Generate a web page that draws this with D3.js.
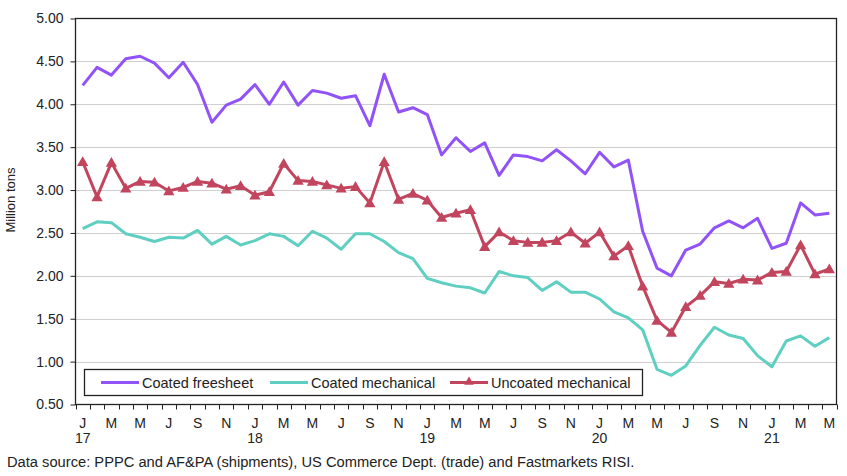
<!DOCTYPE html>
<html><head><meta charset="utf-8">
<script src="https://cdn.jsdelivr.net/npm/d3@7"></script>
<style>
body{margin:0;background:#fff;}
svg{display:block;font-family:"Liberation Sans",Arial,sans-serif;}
</style></head>
<body><svg id="c" width="847" height="476"></svg>
<script>
const months = ["J","F","M","A","M","J","J","A","S","O","N","D",
  "J","F","M","A","M","J","J","A","S","O","N","D",
  "J","F","M","A","M","J","J","A","S","O","N","D",
  "J","F","M","A","M","J","J","A","S","O","N","D",
  "J","F","M","A","M"];
const years = [{i:0,label:"17"},{i:12,label:"18"},{i:24,label:"19"},{i:36,label:"20"},{i:48,label:"21"}];
const coatedFreesheet = [4.22,4.43,4.34,4.53,4.56,4.48,4.31,4.49,4.23,3.79,3.99,4.06,
  4.23,4.00,4.26,3.99,4.16,4.13,4.07,4.10,3.75,4.35,3.91,3.96,
  3.88,3.41,3.61,3.45,3.55,3.17,3.41,3.39,3.34,3.47,3.34,3.19,
  3.44,3.27,3.35,2.52,2.09,2.00,2.30,2.37,2.56,2.64,2.56,2.67,
  2.32,2.38,2.85,2.71,2.73];
const coatedMechanical = [2.55,2.63,2.62,2.49,2.45,2.40,2.45,2.44,2.53,2.37,2.46,2.36,
  2.41,2.49,2.46,2.35,2.52,2.44,2.31,2.49,2.49,2.40,2.27,2.20,
  1.97,1.92,1.88,1.86,1.80,2.05,2.00,1.98,1.83,1.93,1.81,1.81,
  1.73,1.58,1.51,1.37,0.91,0.84,0.95,1.19,1.40,1.31,1.27,1.07,
  0.94,1.24,1.30,1.18,1.28];
const uncoatedMechanical = [3.33,2.92,3.32,3.02,3.10,3.09,2.99,3.03,3.10,3.08,3.01,3.05,
  2.94,2.98,3.31,3.11,3.10,3.06,3.02,3.04,2.85,3.33,2.89,2.96,
  2.88,2.68,2.73,2.77,2.34,2.51,2.41,2.39,2.39,2.41,2.51,2.38,
  2.51,2.23,2.35,1.88,1.48,1.34,1.64,1.77,1.93,1.91,1.96,1.95,
  2.04,2.05,2.36,2.02,2.08];
const yTicks = [0.5,1.0,1.5,2.0,2.5,3.0,3.5,4.0,4.5,5.0];
const seriesNames = ["Coated freesheet","Coated mechanical","Uncoated mechanical"];
const colors = ["#9152f8","#5ecfc1","#c2455e"];
const source = "Data source: PPPC and AF&PA (shipments), US Commerce Dept. (trade) and Fastmarkets RISI.";

const svg = d3.select("#c");
const L=75.5, R=836.5, T=18.5, B=404.5;
const idx = d3.range(months.length);
const x = d3.scaleBand().domain(idx).range([L,R]).padding(0);
const y = d3.scaleLinear().domain([0.5,5]).range([B,T]);
const cx = i => x(i)+x.bandwidth()/2;

// gridlines
svg.append("g").selectAll("line").data(yTicks.filter(v=>v>0.5&&v<5)).join("line")
  .attr("x1",L).attr("x2",R).attr("y1",d=>Math.round(y(d))+0.5).attr("y2",d=>Math.round(y(d))+0.5)
  .attr("stroke","#cfcfcf").attr("stroke-width",1);

// y axis
const ya = svg.append("g").attr("transform",`translate(${L},0)`)
  .call(d3.axisLeft(y).tickValues(yTicks).tickFormat(d3.format(".2f")).tickSize(5).tickPadding(7));
ya.select(".domain").remove();
ya.selectAll("line").attr("stroke","#222");
ya.selectAll("text").attr("font-size",14).attr("fill","#222").attr("font-family","Liberation Sans, Arial, sans-serif");

// x axis ticks at band boundaries
const xg = svg.append("g");
xg.selectAll("line").data(d3.range(months.length+1)).join("line")
  .attr("x1",d=>Math.round(d<months.length?x(d):R)+0.5).attr("x2",d=>Math.round(d<months.length?x(d):R)+0.5)
  .attr("y1",B).attr("y2",B+5).attr("stroke","#222");
xg.selectAll("text.m").data(idx.filter(i=>i%2===0)).join("text").attr("class","m")
  .attr("x",cx).attr("y",B+23).attr("text-anchor","middle").attr("font-size",14).attr("fill","#222")
  .text(i=>months[i]);
xg.selectAll("text.yr").data(years).join("text").attr("class","yr")
  .attr("x",d=>cx(d.i)).attr("y",B+38).attr("text-anchor","middle").attr("font-size",14).attr("fill","#222")
  .text(d=>d.label);

// frame
svg.append("rect").attr("x",L).attr("y",T).attr("width",R-L).attr("height",B-T)
  .attr("fill","none").attr("stroke","#222").attr("stroke-width",1.3);

// lines
const line = d3.line().x((d,i)=>cx(i)).y(d=>y(d));
const data = [coatedFreesheet, coatedMechanical, uncoatedMechanical];
data.forEach((s,k)=>{
  svg.append("path").datum(s).attr("d",line).attr("fill","none")
    .attr("stroke",colors[k]).attr("stroke-width",3).attr("stroke-linejoin","round");
});
const tri = d3.symbol().type(d3.symbolTriangle).size(55);
svg.append("g").selectAll("path").data(uncoatedMechanical).join("path")
  .attr("transform",(d,i)=>`translate(${cx(i)},${y(d)+1})`).attr("d",tri).attr("fill",colors[2]);

// legend
const lg = svg.append("g");
lg.append("rect").attr("x",84.5).attr("y",369.5).attr("width",558).attr("height",26)
  .attr("fill","#fff").attr("stroke","#222").attr("stroke-width",1.3);
const legX = [101,270,450];
seriesNames.forEach((n,k)=>{
  lg.append("line").attr("x1",legX[k]).attr("x2",legX[k]+38).attr("y1",382.5).attr("y2",382.5)
    .attr("stroke",colors[k]).attr("stroke-width",3);
  if(k===2) lg.append("path").attr("transform",`translate(${legX[k]+19},382)`)
    .attr("d",d3.symbol().type(d3.symbolTriangle).size(40)).attr("fill",colors[k]);
  lg.append("text").attr("x",legX[k]+41).attr("y",387.5).attr("font-size",14.5).attr("fill","#222").text(n);
});

// y title
svg.append("text").attr("transform","translate(15,200) rotate(-90)").attr("text-anchor","middle")
  .attr("font-size",13).attr("fill","#222").text("Million tons");

// source
svg.append("text").attr("x",7).attr("y",467).attr("font-size",14.7).attr("fill","#222").text(source);
</script></body></html>
